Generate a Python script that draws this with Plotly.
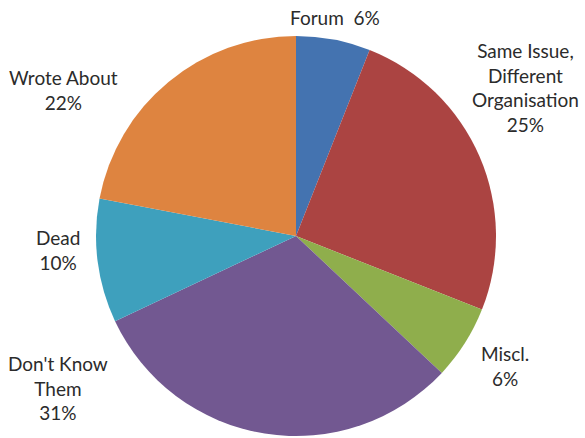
import plotly.graph_objects as go

labels = ["Forum", "Same Issue, Different Organisation", "Miscl.", "Don't Know Them", "Dead", "Wrote About"]
values = [6, 25, 6, 31, 10, 22]
colors = ["#4473b0", "#ab4442", "#8fae4c", "#725891", "#3ea0bd", "#de8440"]
label_lines = ["Forum  {p}%", "Same Issue,<br>Different<br>Organisation<br>{p}%", "Miscl.<br>{p}%",
               "Don't Know<br>Them<br>{p}%", "Dead<br>{p}%", "Wrote About<br>{p}%"]
# label centre positions in pixels (x, y from top)
label_pos = [(335, 18), (525, 87), (505, 366), (58, 388), (58, 250), (63, 90)]

W, H = 585, 438
fig = go.Figure(go.Pie(
    labels=labels, values=values, sort=False, direction="clockwise", rotation=0,
    marker=dict(colors=colors, line=dict(width=0)),
    textinfo="none", hoverinfo="label+percent",
    domain=dict(x=[96 / W, 496 / W], y=[2 / H, 402 / H]),
    showlegend=False,
))

total = sum(values)
for lab, v, (px, py) in zip(label_lines, values, label_pos):
    fig.add_annotation(
        text=lab.format(p=round(v * 100 / total)),
        x=px / W, y=1 - py / H, xref="paper", yref="paper",
        xanchor="center", yanchor="middle", showarrow=False,
        font=dict(family="Lato", size=19, color="#2b2b2b"), align="center",
    )

fig.update_layout(width=W, height=H, margin=dict(l=0, r=0, t=0, b=0),
                  paper_bgcolor="white", plot_bgcolor="white")
fig.write_html("out.html")
